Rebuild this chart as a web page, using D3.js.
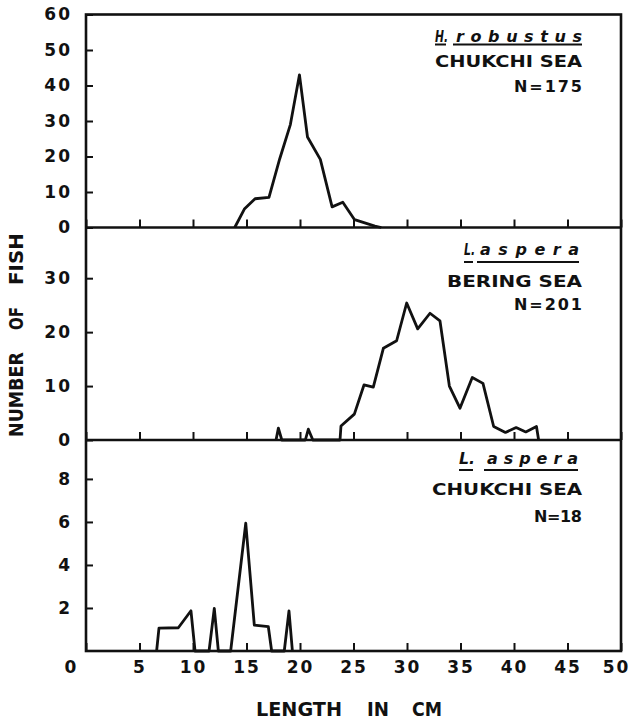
<!DOCTYPE html>
<html>
<head>
<meta charset="utf-8">
<script src="https://cdn.jsdelivr.net/npm/d3@7"></script>
<style>
  body { margin: 0; background: #fff; }
  svg text { font-family: "DejaVu Sans", sans-serif; font-weight: bold; fill: #111; }
  .tick text { font-size: 17px; letter-spacing: 2px; }
</style>
</head>
<body>
<script>
const lengthTicks = [0, 5, 10, 15, 20, 25, 30, 35, 40, 45, 50];

// H. robustus, Chukchi Sea (N=175)
const robustusLength = [13.9, 14.8, 15.8, 17.1, 18.1, 19.1, 19.95, 20.7, 21.9, 23.0, 24.0, 25.1, 27.0, 27.6];
const robustusCount = [0, 5.2, 8.1, 8.5, 19.3, 29, 43, 25.5, 19.2, 5.8, 7.1, 2.2, 0.4, 0];
const robustusTicks = [0, 10, 20, 30, 40, 50, 60];

// L. aspera, Bering Sea (N=201)
const beringLength = [17.76, 17.98, 18.3, 20.5, 20.78, 21.2, 23.74, 23.83, 25.08, 25.98, 26.85, 27.79, 29.03, 29.97,
  31.0, 32.15, 33.08, 33.96, 34.95, 36.1, 37.1, 38.1, 39.2, 40.2, 41.1, 42.1, 42.3];
const beringCount = [0, 2.2, 0, 0, 2.0, 0, 0, 2.6, 4.8, 10.2, 9.8, 17.0, 18.4, 25.4,
  20.6, 23.5, 22.1, 10.0, 5.9, 11.6, 10.5, 2.5, 1.4, 2.3, 1.5, 2.5, 0];
const beringTicks = [0, 10, 20, 30];

// L. aspera, Chukchi Sea (N=18)
const chukchiLength = [6.6, 6.82, 8.63, 9.81, 10.19, 11.5, 11.99, 12.37, 13.52, 14.93, 15.73, 17.04, 17.35, 18.53, 18.97, 19.29];
const chukchiCount = [0, 1.06, 1.08, 1.87, 0, 0, 1.98, 0, 0, 5.94, 1.2, 1.13, 0, 0, 1.86, 0];
const chukchiTicks = [2, 4, 6, 8];

const plotLeft = 86, plotRight = 621, plotTop = 14.5, plotBottom = 651;

const svg = d3.select('body').append('svg')
    .attr('width', 629)
    .attr('height', 721);

const x = d3.scaleLinear().domain([0, 50]).range([plotLeft, plotRight]);

const panels = [
    { len: robustusLength, cnt: robustusCount, ticks: robustusTicks, max: 60, y0: 227.5, y1: plotTop,
      genus: 'H.', species: 'robustus', region: 'CHUKCHI SEA', n: 'N=175',
      gx: 435, gw: 13, sx: 456, sw: 126, tb: 42, ul: 44.5, rw: 147, rb: 67, nw: 68, nb: 92 },
    { len: beringLength, cnt: beringCount, ticks: beringTicks, max: 39.4, y0: 440, y1: 227.5,
      genus: 'L.', species: 'aspera', region: 'BERING SEA', n: 'N=201',
      gx: 464, gw: 11, sx: 480, sw: 99, tb: 255, ul: 262, rw: 135, rb: 287, nw: 68, nb: 310 },
    { len: chukchiLength, cnt: chukchiCount, ticks: chukchiTicks, max: 9.81, y0: 651, y1: 440,
      genus: 'L.', species: 'aspera', region: 'CHUKCHI SEA', n: 'N=18',
      gx: 459, gw: 16, sx: 487, sw: 91, tb: 464, ul: 470, rw: 150, rb: 495, nw: 48, nb: 522 }
];

panels.forEach((p, i) => {
    const y = d3.scaleLinear().domain([0, p.max]).range([p.y0, p.y1]);

    svg.append('g')
        .attr('transform', `translate(${plotLeft},0)`)
        .call(d3.axisLeft(y).tickValues(p.ticks).tickSizeInner(-7).tickSizeOuter(0).tickPadding(14))
        .call(a => a.select('.domain').remove())
        .call(a => a.selectAll('.tick line').attr('stroke', '#111').attr('stroke-width', 2));

    // inward ticks along each baseline, labels only on the bottom one
    const xAxis = d3.axisBottom(x).tickValues(lengthTicks).tickSizeInner(-8).tickSizeOuter(0).tickPadding(5);
    if (i < 2) xAxis.tickFormat('');
    const xg = svg.append('g')
        .attr('transform', `translate(0,${p.y0})`)
        .call(xAxis)
        .call(a => a.select('.domain').remove())
        .call(a => a.selectAll('.tick line').attr('stroke', '#111').attr('stroke-width', 2));
    if (i === 2) {
        xg.selectAll('.tick text').attr('y', 22).attr('dy', null);
        xg.selectAll('.tick').filter(d => d === 0).select('text').attr('x', -15);
        xg.selectAll('.tick').filter(d => d === 50).select('text').attr('x', -5);
    }

    svg.append('path')
        .datum(d3.zip(p.len, p.cnt))
        .attr('fill', 'none')
        .attr('stroke', '#111')
        .attr('stroke-width', 2.8)
        .attr('stroke-linejoin', 'round')
        .attr('d', d3.line().x(d => x(d[0])).y(d => y(d[1])));

    // species / region / sample size
    svg.append('text').attr('x', p.gx).attr('y', p.tb)
        .attr('font-style', 'italic').attr('font-size', 16)
        .attr('textLength', p.gw).attr('lengthAdjust', 'spacingAndGlyphs').text(p.genus);
    svg.append('text').attr('x', p.sx).attr('y', p.tb)
        .attr('font-style', 'italic').attr('font-size', 16)
        .attr('textLength', p.sw).attr('lengthAdjust', 'spacing').text(p.species);
    svg.append('line').attr('x1', p.gx).attr('x2', p.gx + p.gw - 2)
        .attr('y1', p.ul).attr('y2', p.ul).attr('stroke', '#111').attr('stroke-width', 2);
    svg.append('line').attr('x1', p.sx - 3).attr('x2', p.sx + p.sw)
        .attr('y1', p.ul).attr('y2', p.ul).attr('stroke', '#111').attr('stroke-width', 2);
    svg.append('text').attr('x', 582 - p.rw).attr('y', p.rb).attr('font-size', 16)
        .attr('textLength', p.rw).attr('lengthAdjust', 'spacingAndGlyphs').text(p.region);
    svg.append('text').attr('x', 582 - p.nw).attr('y', p.nb).attr('font-size', 16)
        .attr('textLength', p.nw).attr('lengthAdjust', 'spacing').text(p.n);
});

// frame and panel dividers
svg.append('rect')
    .attr('x', plotLeft).attr('y', plotTop)
    .attr('width', plotRight - plotLeft).attr('height', plotBottom - plotTop)
    .attr('fill', 'none').attr('stroke', '#111').attr('stroke-width', 2.6);
[227.5, 440].forEach(yy => {
    svg.append('line').attr('x1', plotLeft).attr('x2', plotRight).attr('y1', yy).attr('y2', yy)
        .attr('stroke', '#111').attr('stroke-width', 2.6);
});

// axis titles, word by word for the wide hand-lettered gaps
[['LENGTH', 256, 86], ['IN', 367, 22], ['CM', 412, 30]].forEach(([w, wx, wl]) => {
    svg.append('text').attr('x', wx).attr('y', 716).attr('font-size', 20)
        .attr('textLength', wl).attr('lengthAdjust', 'spacingAndGlyphs').text(w);
});
[['NUMBER', 437, 85], ['OF', 330, 23], ['FISH', 285, 52]].forEach(([w, wy, wl]) => {
    svg.append('text').attr('transform', `translate(23,${wy}) rotate(-90)`).attr('font-size', 20)
        .attr('textLength', wl).attr('lengthAdjust', 'spacingAndGlyphs').text(w);
});
</script>
</body>
</html>
